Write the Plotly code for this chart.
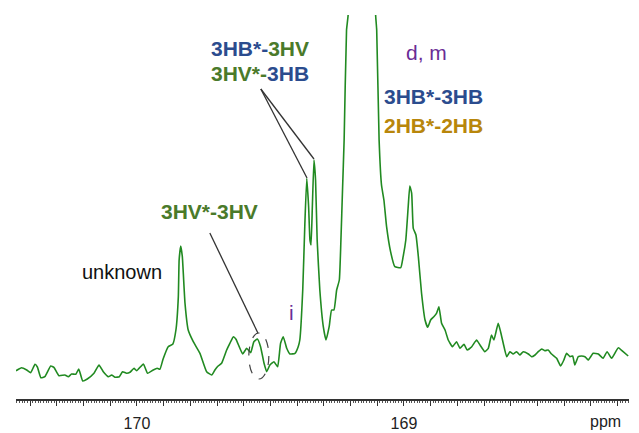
import plotly.graph_objects as go

# Spectrum (ppm, intensity in arbitrary units)
ppm = [170.453, 170.432, 170.413, 170.398, 170.382, 170.373, 170.360, 170.345, 170.323, 170.311,
       170.292, 170.270, 170.257, 170.245, 170.229, 170.218, 170.203, 170.186, 170.161, 170.142,
       170.126, 170.107, 170.095, 170.082, 170.066, 170.054, 170.039, 170.026, 170.011, 170.001,
       169.976, 169.960, 169.939, 169.924, 169.914, 169.902, 169.883, 169.866, 169.854, 169.845,
       169.842, 169.836, 169.830, 169.820, 169.808, 169.789, 169.764, 169.739, 169.720, 169.708,
       169.696, 169.683, 169.664, 169.652, 169.639, 169.629, 169.617, 169.604, 169.589, 169.574,
       169.562, 169.549, 169.537, 169.524, 169.514, 169.502, 169.487, 169.473, 169.462, 169.452,
       169.439, 169.427, 169.408, 169.396, 169.390, 169.379, 169.371, 169.364, 169.357, 169.352,
       169.348, 169.343, 169.337, 169.331, 169.325, 169.315, 169.302, 169.292, 169.280, 169.271,
       169.262, 169.252, 169.242, 169.236, 169.230, 169.224, 169.215, 169.209, 169.190, 169.157,
       169.125, 169.106, 169.102, 169.093, 169.084, 169.075, 169.065, 169.050, 169.034, 169.012,
       169.003, 168.993, 168.984, 168.978, 168.971, 168.965, 168.955, 168.946, 168.934, 168.921,
       168.911, 168.900, 168.888, 168.878, 168.869, 168.859, 168.846, 168.834, 168.818, 168.803,
       168.790, 168.775, 168.763, 168.746, 168.728, 168.715, 168.697, 168.684, 168.672, 168.663,
       168.647, 168.638, 168.628, 168.615, 168.603, 168.591, 168.578, 168.566, 168.553, 168.534,
       168.522, 168.509, 168.497, 168.484, 168.472, 168.460, 168.447, 168.428, 168.413, 168.401,
       168.391, 168.378, 168.368, 168.360, 168.347, 168.335, 168.322, 168.310, 168.291, 168.272,
       168.254, 168.239, 168.222, 168.197, 168.179, 168.160]
intensity = [28.3, 31.3, 29, 26.3, 34.7, 32, 21.3, 22.3, 33, 31.7,
             23.3, 24, 22.3, 25, 24.7, 30, 18, 20, 25.7, 34,
             27.3, 22.3, 24, 21.7, 22.3, 27.3, 25.7, 26.7, 30.7, 28.3,
             35, 25.7, 29, 30.7, 29.7, 40, 52.3, 54.7, 69, 102.3,
             139, 153, 142.3, 95.7, 69, 57.3, 45.7, 27.3, 24, 29,
             33, 35.7, 49, 55.7, 62.3, 59.7, 52.3, 45, 50.7, 46.3,
             57.3, 60, 52.3, 35.7, 27.3, 34, 37.3, 32.3, 55.7, 62.3,
             50.7, 45, 45.7, 52.3, 59, 109, 175.7, 220.7, 192.3, 159,
             154, 192.3, 239, 219, 159, 109, 72.3, 59, 72.3, 89,
             89, 109, 119, 159, 209, 259, 369, 384, 700, 1400,
             700, 384, 369, 259, 214, 199, 172.3, 147.3, 132.3, 131.3,
             142.3, 159, 192.3, 213, 205.7, 170.7, 164, 142.3, 105.7, 79,
             71.7, 79, 82.3, 85.7, 92.3, 75.7, 69, 59, 52.3, 57.3,
             50.7, 54.7, 49, 52.3, 59, 54, 47.3, 50.7, 64, 59,
             75.7, 67.3, 55.7, 42.3, 47.3, 45, 47.3, 44, 47.3, 45,
             42.3, 44, 47.3, 50, 48.3, 49, 45, 40.7, 33, 39,
             45.7, 42.3, 43, 34, 42.3, 43, 42.3, 39, 45.7, 45,
             40.7, 47.3, 40.7, 51.3, 47.3, 43]

tick_vals = [round(170.4 - 0.1 * i, 1) for i in range(23)]
tick_text = [("%g" % v) if v in (170.0, 169.0) else "" for v in tick_vals]

BLUE = "#2b4c8e"
GREEN = "#4a7a2a"
GOLD = "#b8860b"
PURPLE = "#6a2c96"
FONT = "Liberation Sans, Arial, sans-serif"

fig = go.Figure()
fig.add_trace(go.Scatter(x=ppm, y=intensity, mode="lines",
                         line=dict(color="#218a21", width=1.6, shape="spline", smoothing=0.4),
                         hoverinfo="skip"))

def label(x, y, parts, size=21, bold=True):
    txt = "".join(
        ("<b><span style='color:%s'>%s</span></b>" if bold else "<span style='color:%s'>%s</span>") % (c, t)
        for t, c in parts)
    fig.add_annotation(x=x, y=y, xref="x", yref="y", text=txt, showarrow=False,
                       font=dict(family=FONT, size=size), xanchor="center", yanchor="middle")

label(169.539, 351, [("3HB*-", BLUE), ("3HV", GREEN)])
label(169.539, 326, [("3HV*-", GREEN), ("3HB", BLUE)])
label(168.891, 303, [("3HB*-3HB", BLUE)])
label(168.891, 274, [("2HB*-2HB", GOLD)])
label(169.730, 188, [("3HV*-3HV", GREEN)])
label(168.914, 347, [("d, m", PURPLE)], bold=False)
label(169.423, 87, [("i", PURPLE)], bold=False)
label(170.056, 127, [("unknown", "#111111")], size=20, bold=False)

# connector lines
for x0, y0, x1, y1 in [(169.536, 310, 169.363, 221), (169.536, 310, 169.337, 240),
                       (169.727, 166, 169.547, 66)]:
    fig.add_shape(type="line", x0=x0, y0=y0, x1=x1, y1=y1, xref="x", yref="y",
                  line=dict(color="#333333", width=1.3))
fig.add_shape(type="circle", x0=169.581, x1=169.506, y0=20, y1=66, xref="x", yref="y",
              line=dict(color="#444444", width=1.2, dash="dash"))

fig.add_annotation(x=1.0, y=0, xref="paper", yref="paper", text="ppm", showarrow=False,
                   xanchor="right", yanchor="top", yshift=-12, xshift=-6,
                   font=dict(family=FONT, size=16, color="#222222"))

fig.update_layout(
    width=639, height=433, margin=dict(l=16, r=10, t=15, b=34),
    paper_bgcolor="white", plot_bgcolor="white", showlegend=False,
    xaxis=dict(range=[170.453, 168.157], showgrid=False, zeroline=False, automargin=False,
               showline=True, linecolor="#333333", linewidth=1.5,
               tickmode="array", tickvals=tick_vals, ticktext=tick_text,
               ticks="outside", ticklen=5, tickwidth=1, tickcolor="#333333",
               ticklabelstandoff=4,
               minor=dict(dtick=0.01, tick0=170, ticks="outside", ticklen=2.5,
                          tickwidth=0.8, tickcolor="#555555", showgrid=False),
               tickfont=dict(family=FONT, size=16, color="#222222")),
    yaxis=dict(range=[0, 384], visible=False, automargin=False),
)

fig.write_html("out.html")
